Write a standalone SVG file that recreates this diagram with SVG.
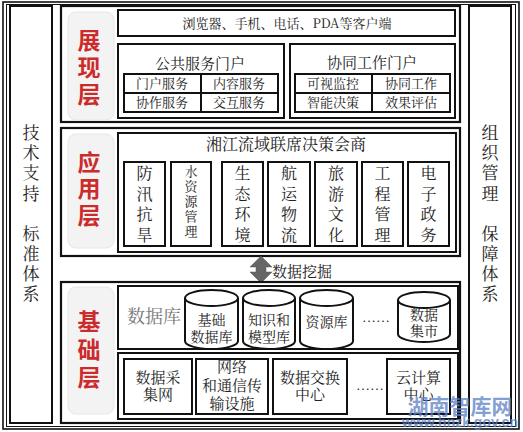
<svg xmlns="http://www.w3.org/2000/svg" width="523" height="432" viewBox="0 0 523 432">
<style>
  .bx{fill:#fff;stroke:#111;stroke-width:2}
  .lay{fill:#fff;stroke:#111;stroke-width:2.2}
  .lbl{fill:#f3f3f3;stroke:#e6e6e6;stroke-width:1}
  .t{font-family:"Noto Serif CJK SC","Noto Sans CJK SC",serif;fill:#222;text-anchor:middle}
  .s13{font-size:13px}
  .s14{font-size:14px}
  .s15{font-size:15px}
  .s16{font-size:16px}
  .side{font-size:17px}
  .red{font-family:"Noto Sans CJK SC",sans-serif;font-size:23px;font-weight:bold;fill:#cc2b2b;text-anchor:middle}
  .cyl{fill:#fff;stroke:#111;stroke-width:2}
</style>
<rect width="523" height="432" fill="#fff"/>
<!-- outer frame -->
<rect x="3" y="2" width="516" height="427" fill="none" stroke="#111" stroke-width="1.6"/>
<rect x="6.5" y="4.5" width="509" height="422" fill="none" stroke="#111" stroke-width="1"/>

<g id="left-col">
  <rect class="bx" x="10" y="6" width="42" height="417"/>
  <text class="t side"><tspan x="31" y="139">技</tspan><tspan x="31" y="159">术</tspan><tspan x="31" y="179">支</tspan><tspan x="31" y="200">持</tspan><tspan x="31" y="240">标</tspan><tspan x="31" y="260">准</tspan><tspan x="31" y="280">体</tspan><tspan x="31" y="300">系</tspan></text>
</g>
<g id="right-col">
  <rect class="bx" x="469" y="6" width="42" height="417"/>
  <text class="t side"><tspan x="490" y="139">组</tspan><tspan x="490" y="159">织</tspan><tspan x="490" y="179">管</tspan><tspan x="490" y="200">理</tspan><tspan x="490" y="240">保</tspan><tspan x="490" y="260">障</tspan><tspan x="490" y="280">体</tspan><tspan x="490" y="300">系</tspan></text>
</g>

<!-- presentation layer -->
<g id="layer-present">
  <rect class="lay" x="61" y="6" width="399" height="116"/>
  <rect class="lbl" x="68" y="12" width="46" height="108" rx="8"/>
  <text class="red"><tspan x="89" y="49">展</tspan><tspan x="89" y="76">现</tspan><tspan x="89" y="103">层</tspan></text>
</g>
<g id="clients">
  <rect class="bx" x="118" y="10" width="337" height="26"/>
  <text class="t s13" x="287" y="28">浏览器、手机、电话、PDA等客户端</text>
</g>
<g id="public-portal">
  <rect class="bx" x="118" y="44" width="166" height="74"/>
  <text class="t s15" x="200" y="69">公共服务门户</text>
  <rect class="bx" x="124" y="74" width="154" height="38"/>
  <line x1="124" y1="93" x2="278" y2="93" stroke="#111" stroke-width="2"/>
  <line x1="201" y1="74" x2="201" y2="112" stroke="#111" stroke-width="2"/>
  <text class="t s13" x="162" y="88">门户服务</text>
  <text class="t s13" x="239" y="88">内容服务</text>
  <text class="t s13" x="162" y="107">协作服务</text>
  <text class="t s13" x="239" y="107">交互服务</text>
</g>
<g id="collab-portal">
  <rect class="bx" x="290" y="44" width="165" height="74"/>
  <text class="t s15" x="372" y="68">协同工作门户</text>
  <rect class="bx" x="295" y="74" width="155" height="38"/>
  <line x1="295" y1="93" x2="450" y2="93" stroke="#111" stroke-width="2"/>
  <line x1="372" y1="74" x2="372" y2="112" stroke="#111" stroke-width="2"/>
  <text class="t s13" x="333" y="88">可视监控</text>
  <text class="t s13" x="411" y="88">协同工作</text>
  <text class="t s13" x="333" y="107">智能决策</text>
  <text class="t s13" x="411" y="107">效果评估</text>
</g>

<!-- application layer -->
<g id="layer-app">
  <rect class="lay" x="61" y="128" width="399" height="128"/>
  <rect class="lbl" x="68" y="134" width="46" height="114" rx="8"/>
  <text class="red"><tspan x="89" y="171">应</tspan><tspan x="89" y="197">用</tspan><tspan x="89" y="224">层</tspan></text>
</g>
<g id="decision">
  <rect class="bx" x="118" y="133" width="338" height="119"/>
  <text class="t s16" x="286" y="150">湘江流域联席决策会商</text>
</g>
<g id="app-flood">
  <rect class="bx" x="124" y="162" width="41" height="84"/>
  <text class="t s16"><tspan x="144.5" y="179">防</tspan><tspan x="144.5" y="200">汛</tspan><tspan x="144.5" y="220">抗</tspan><tspan x="144.5" y="241">旱</tspan></text>
</g>
<g id="app-water">
  <rect class="bx" x="171" y="162" width="40" height="84"/>
  <text class="t s13"><tspan x="191" y="176">水</tspan><tspan x="191" y="191">资</tspan><tspan x="191" y="206">源</tspan><tspan x="191" y="221">管</tspan><tspan x="191" y="236">理</tspan></text>
</g>
<g id="app-eco">
  <rect class="bx" x="222" y="162" width="41" height="84"/>
  <text class="t s16"><tspan x="242.5" y="179">生</tspan><tspan x="242.5" y="200">态</tspan><tspan x="242.5" y="220">环</tspan><tspan x="242.5" y="241">境</tspan></text>
</g>
<g id="app-ship">
  <rect class="bx" x="268" y="162" width="42" height="84"/>
  <text class="t s16"><tspan x="289" y="179">航</tspan><tspan x="289" y="200">运</tspan><tspan x="289" y="220">物</tspan><tspan x="289" y="241">流</tspan></text>
</g>
<g id="app-tour">
  <rect class="bx" x="315" y="162" width="42" height="84"/>
  <text class="t s16"><tspan x="336" y="179">旅</tspan><tspan x="336" y="200">游</tspan><tspan x="336" y="220">文</tspan><tspan x="336" y="241">化</tspan></text>
</g>
<g id="app-eng">
  <rect class="bx" x="362" y="162" width="41" height="84"/>
  <text class="t s16"><tspan x="382.5" y="179">工</tspan><tspan x="382.5" y="200">程</tspan><tspan x="382.5" y="220">管</tspan><tspan x="382.5" y="241">理</tspan></text>
</g>
<g id="app-egov">
  <rect class="bx" x="408" y="162" width="41" height="84"/>
  <text class="t s16"><tspan x="428.5" y="179">电</tspan><tspan x="428.5" y="200">子</tspan><tspan x="428.5" y="220">政</tspan><tspan x="428.5" y="241">务</tspan></text>
</g>

<!-- connectors -->
<g id="connectors">
  <polygon points="261,256 272,267 266,267 266,272 272,272 261,283 250,272 256,272 256,267 250,267" fill="#666" stroke="#555" stroke-width="0.5"/>
  <text class="t" x="302" y="277" style="font-size:15px">数据挖掘</text>
</g>

<!-- foundation layer -->
<g id="layer-base">
  <rect class="lay" x="61" y="282" width="399" height="141"/>
  <rect class="lbl" x="68" y="287" width="46" height="127" rx="8"/>
  <text class="red"><tspan x="89" y="330">基</tspan><tspan x="89" y="358">础</tspan><tspan x="89" y="386">层</tspan></text>
</g>
<g id="database">
  <rect class="bx" x="118" y="286" width="340" height="63"/>
  <text class="t" x="154" y="323" style="font-size:18px;fill:#777">数据库</text>
</g>
<g id="db-basic">
  <path class="cyl" d="M185,298 A26.5,8 0 0 1 238,298 L238,341 A26.5,8 0 0 1 185,341 Z M185,298 A26.5,8 0 0 0 238,298"/>
  <text class="t s14"><tspan x="211.5" y="325">基础</tspan><tspan x="211.5" y="342">数据库</tspan></text>
</g>
<g id="db-knowledge">
  <path class="cyl" d="M243,298 A26,8 0 0 1 295,298 L295,341 A26,8 0 0 1 243,341 Z M243,298 A26,8 0 0 0 295,298"/>
  <text class="t s14"><tspan x="269" y="325">知识和</tspan><tspan x="269" y="342">模型库</tspan></text>
</g>
<g id="db-resource">
  <path class="cyl" d="M300,298 A26.5,8 0 0 1 353,298 L353,341 A26.5,8 0 0 1 300,341 Z M300,298 A26.5,8 0 0 0 353,298"/>
  <text class="t s14" x="326.5" y="327">资源库</text>
</g>
<text class="t s14" x="376" y="326">……</text>
<g id="db-mart">
  <path class="cyl" d="M398,300 A26,8 0 0 1 450,300 L450,334 A26,8 0 0 1 398,334 Z M398,300 A26,8 0 0 0 450,300"/>
  <text class="t s14"><tspan x="424" y="320">数据</tspan><tspan x="424" y="336">集市</tspan></text>
</g>
<g id="infra">
  <rect class="bx" x="118" y="353" width="340" height="66"/>
</g>
<g id="inf-collect">
  <rect class="bx" x="124" y="359" width="68" height="55"/>
  <text class="t s15"><tspan x="158" y="383">数据采</tspan><tspan x="158" y="400">集网</tspan></text>
</g>
<g id="inf-net">
  <rect class="bx" x="196" y="359" width="72" height="55"/>
  <text class="t s15"><tspan x="232" y="372">网络</tspan><tspan x="232" y="391">和通信传</tspan><tspan x="232" y="409">输设施</tspan></text>
</g>
<g id="inf-exchange">
  <rect class="bx" x="273" y="359" width="74" height="55"/>
  <text class="t s15"><tspan x="310" y="383">数据交换</tspan><tspan x="310" y="400">中心</tspan></text>
</g>
<text class="t s14" x="370" y="394">……</text>
<g id="inf-cloud">
  <rect class="bx" x="387" y="359" width="63" height="55"/>
  <text class="t s15"><tspan x="418.5" y="383">云计算</tspan><tspan x="418.5" y="400">中心</tspan></text>
</g>

<!-- watermark -->
<g opacity="0.75">
  <text x="460" y="414" style="font-family:'Noto Sans CJK SC',sans-serif;font-size:21px;font-weight:bold;fill:#5b7fc4;text-anchor:middle">湖南智库网</text>
  <text x="460" y="427" style="font-family:'Liberation Sans',sans-serif;font-size:14px;font-weight:bold;fill:#5b7fc4;text-anchor:middle">www.hnzk.gov.cn</text>
</g>
</svg>
